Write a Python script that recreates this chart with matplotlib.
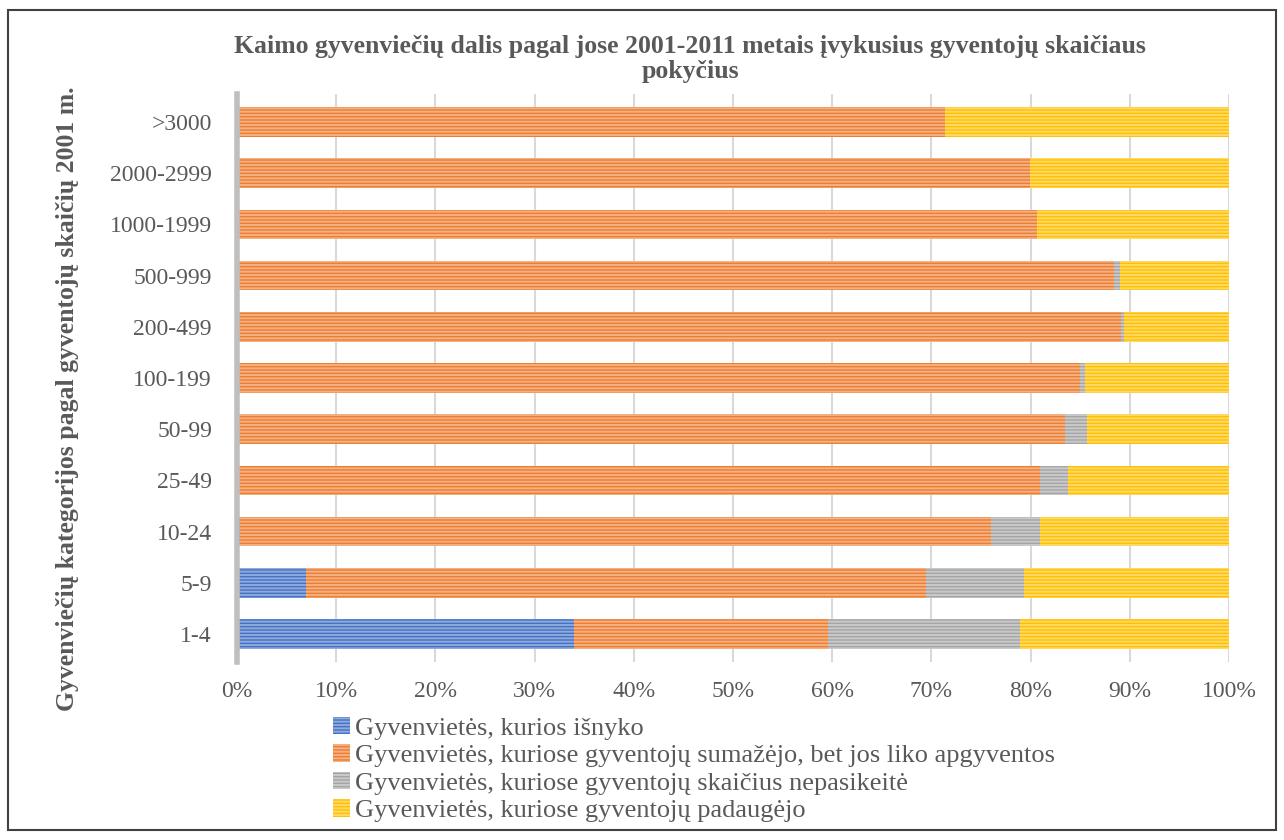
import numpy as np
import matplotlib.pyplot as plt
import matplotlib.colors as mcolors
from matplotlib.patches import Rectangle

categories = ["1-4", "5-9", "10-24", "25-49", "50-99", "100-199",
              "200-499", "500-999", "1000-1999", "2000-2999", ">3000"]

# shares in %, bottom row first
vanished = [34.0, 7.0, 0.3, 0, 0, 0, 0, 0, 0, 0, 0]
decreased = [25.6, 62.5, 75.7, 80.9, 83.5, 85.0, 89.1, 88.4, 80.6, 79.9, 71.4]
unchanged = [19.3, 9.8, 4.9, 2.9, 2.2, 0.5, 0.3, 0.6, 0, 0, 0]
increased = [21.1, 20.7, 19.1, 16.2, 14.3, 14.5, 10.6, 11.0, 19.4, 20.1, 28.6]

labels = [
    "Gyvenvietės, kurios išnyko",
    "Gyvenvietės, kuriose gyventojų sumažėjo, bet jos liko apgyventos",
    "Gyvenvietės, kuriose gyventojų skaičius nepasikeitė",
    "Gyvenvietės, kuriose gyventojų padaugėjo",
]
colors = ["#4472C4", "#ED7D31", "#A5A5A5", "#FFC000"]

plt.rcParams["font.family"] = ["Liberation Serif", "DejaVu Serif"]
plt.rcParams["hatch.linewidth"] = 1.4

fig = plt.figure(figsize=(12.84, 8.4), dpi=100)
ax = fig.add_axes([237 / 1284, 1 - 662 / 840, (1229 - 237) / 1284, (662 - 94) / 840])

y = np.arange(len(categories))
left = np.zeros(len(categories))
for vals, col, lab in zip([vanished, decreased, unchanged, increased], colors, labels):
    light = mcolors.to_rgb(col)
    light = tuple(0.6 * c + 0.4 for c in light)
    ax.barh(y, vals, left=left, height=0.58, color=col, edgecolor=light,
            linewidth=0, hatch="-----", label=lab)
    left += np.array(vals)

ax.set_xlim(0, 100)
ax.set_ylim(-0.55, len(categories) - 0.45)
ax.set_yticks(y)
ax.set_yticklabels(categories)
ax.set_xticks(np.arange(0, 101, 10))
ax.set_xticklabels([f"{v}%" for v in range(0, 101, 10)])
ax.tick_params(axis="both", labelsize=17, labelcolor="#595959", length=0)
ax.tick_params(axis="x", pad=14)
ax.tick_params(axis="y", pad=18)

ax.grid(axis="x", color="#D9D9D9", linewidth=1.5)
ax.set_axisbelow(True)
for s in ["top", "right", "bottom"]:
    ax.spines[s].set_visible(False)
ax.spines["left"].set_color("#BFBFBF")
ax.spines["left"].set_linewidth(4)

fig.text(690 / 1284, 1 - 59 / 840,
         "Kaimo gyvenviečių dalis pagal jose 2001-2011 metais įvykusius gyventojų skaičiaus\npokyčius",
         ha="center", va="center", fontsize=18.5, fontweight="bold", color="#595959",
         linespacing=1.15)
fig.text(68 / 1284, 1 - 399 / 840, "Gyvenviečių kategorijos pagal gyventojų skaičių 2001 m.",
         rotation=90, ha="center", va="center", fontsize=18.5, fontweight="bold",
         color="#595959")

leg = fig.legend(loc="upper left", bbox_to_anchor=(322 / 1284, 1 - 706 / 840),
                 frameon=False, fontsize=19, handlelength=0.65, handleheight=0.65,
                 handletextpad=0.2, labelspacing=0.17, borderaxespad=0)
for t in leg.get_texts():
    t.set_color("#595959")

fig.patches.append(Rectangle((8 / 1284, 10 / 840), 1268 / 1284, 820 / 840,
                             transform=fig.transFigure, fill=False,
                             edgecolor="#404040", linewidth=1.5))

fig.savefig("out.png", dpi=100)
